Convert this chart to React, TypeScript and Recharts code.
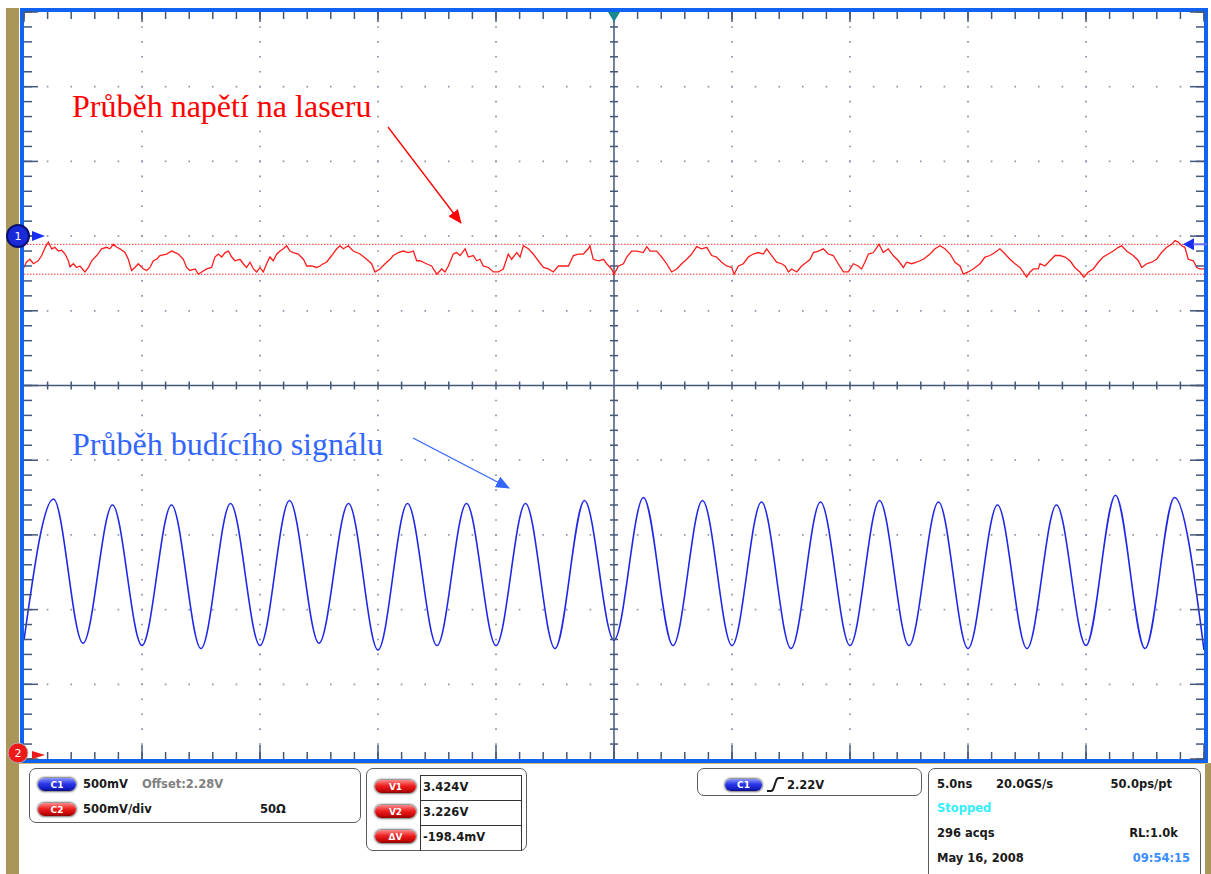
import React from 'react';
import { LineChart, Line, XAxis, YAxis, ReferenceLine, ReferenceDot } from 'recharts';

// time axis in ns (5 ns/div, 10 div), vertical axis in divisions (10 div)
const xMinorTicks = [-25, -24, -23, -22, -21, -20, -19, -18, -17, -16, -15, -14, -13, -12, -11, -10, -9, -8, -7, -6, -5, -4, -3, -2, -1, 0, 1, 2, 3, 4, 5, 6, 7, 8, 9, 10, 11, 12, 13, 14, 15, 16, 17, 18, 19, 20, 21, 22, 23, 24, 25];
const xMajorTicks = [-25, -20, -15, -10, -5, 0, 5, 10, 15, 20, 25];
const yMinorTicks = [-5, -4.8, -4.6, -4.4, -4.2, -4, -3.8, -3.6, -3.4, -3.2, -3, -2.8, -2.6, -2.4, -2.2, -2, -1.8, -1.6, -1.4, -1.2, -1, -0.8, -0.6, -0.4, -0.2, 0, 0.2, 0.4, 0.6, 0.8, 1, 1.2, 1.4, 1.6, 1.8, 2, 2.2, 2.4, 2.6, 2.8, 3, 3.2, 3.4, 3.6, 3.8, 4, 4.2, 4.4, 4.6, 4.8, 5];
const yMajorTicks = [-5, -4, -3, -2, -1, 0, 1, 2, 3, 4, 5];
const xGridLines = [-20, -15, -10, -5, 5, 10, 15, 20];
const yGridLines = [-4, -3, -2, -1, 1, 2, 3, 4];
const cursorLevels = [1.89, 1.49];

// laser voltage trace (red), [time ns, divisions]
const redTrace: number[][] = [
  [-25.0, 1.58], [-24.9, 1.65], [-24.75, 1.69], [-24.6, 1.63], [-24.4, 1.67], [-24.25, 1.74], [-24.1, 1.85], [-23.97, 1.92], [-23.83, 1.83], [-23.69, 1.85], [-23.55, 1.80], [-23.4, 1.81], [-23.26, 1.76], [-23.12, 1.67], [-23.05, 1.59], [-22.91, 1.63], [-22.77, 1.58], [-22.63, 1.60], [-22.42, 1.52], [-22.27, 1.58], [-22.13, 1.67], [-21.92, 1.74], [-21.71, 1.83], [-21.5, 1.85], [-21.36, 1.83], [-21.22, 1.89], [-21.07, 1.85], [-20.93, 1.83], [-20.72, 1.78], [-20.58, 1.69], [-20.44, 1.54], [-20.3, 1.58], [-20.16, 1.63], [-19.94, 1.56], [-19.8, 1.54], [-19.66, 1.58], [-19.52, 1.67], [-19.38, 1.69], [-19.24, 1.74], [-18.96, 1.76], [-18.74, 1.80], [-18.6, 1.78], [-18.46, 1.76], [-18.25, 1.69], [-18.11, 1.58], [-17.97, 1.54], [-17.75, 1.56], [-17.61, 1.49], [-17.47, 1.52], [-17.26, 1.56], [-17.05, 1.58], [-16.91, 1.72], [-16.77, 1.76], [-16.62, 1.72], [-16.48, 1.78], [-16.34, 1.80], [-16.2, 1.72], [-16.06, 1.67], [-15.85, 1.69], [-15.71, 1.63], [-15.57, 1.58], [-15.42, 1.65], [-15.28, 1.56], [-15.14, 1.52], [-15.0, 1.58], [-14.86, 1.52], [-14.72, 1.63], [-14.58, 1.72], [-14.44, 1.67], [-14.29, 1.76], [-14.15, 1.80], [-14.01, 1.83], [-13.87, 1.87], [-13.73, 1.80], [-13.59, 1.78], [-13.38, 1.76], [-13.16, 1.69], [-13.02, 1.60], [-12.81, 1.60], [-12.6, 1.58], [-12.46, 1.60], [-12.32, 1.63], [-12.18, 1.65], [-11.96, 1.74], [-11.75, 1.83], [-11.61, 1.87], [-11.47, 1.83], [-11.26, 1.87], [-11.05, 1.80], [-10.76, 1.76], [-10.48, 1.69], [-10.27, 1.63], [-10.13, 1.52], [-9.92, 1.56], [-9.7, 1.63], [-9.49, 1.69], [-9.35, 1.74], [-9.14, 1.78], [-8.93, 1.80], [-8.72, 1.78], [-8.5, 1.80], [-8.36, 1.67], [-8.22, 1.67],
  [-7.94, 1.63], [-7.73, 1.60], [-7.51, 1.49], [-7.3, 1.56], [-7.16, 1.52], [-7.02, 1.60], [-6.81, 1.76], [-6.67, 1.78], [-6.52, 1.74], [-6.31, 1.83], [-6.17, 1.72], [-5.96, 1.74], [-5.82, 1.67], [-5.68, 1.69], [-5.54, 1.60], [-5.32, 1.58], [-5.11, 1.52], [-4.9, 1.52], [-4.69, 1.56], [-4.48, 1.76], [-4.34, 1.69], [-4.12, 1.78], [-3.98, 1.72], [-3.84, 1.87], [-3.63, 1.83], [-3.42, 1.76], [-3.21, 1.67], [-2.99, 1.58], [-2.78, 1.56], [-2.57, 1.52], [-2.36, 1.60], [-2.15, 1.60], [-1.93, 1.60], [-1.72, 1.74], [-1.51, 1.76], [-1.3, 1.76], [-1.09, 1.83], [-1.02, 1.87], [-0.88, 1.69], [-0.66, 1.67], [-0.45, 1.69], [-0.31, 1.63], [-0.1, 1.56], [0, 1.49], [0.19, 1.60], [0.4, 1.63], [0.54, 1.72], [0.75, 1.80], [0.96, 1.80], [1.24, 1.78], [1.39, 1.86], [1.53, 1.80], [1.81, 1.80], [2.02, 1.72], [2.23, 1.63], [2.44, 1.52], [2.66, 1.56], [2.87, 1.63], [3.08, 1.69], [3.29, 1.76], [3.5, 1.86], [3.71, 1.83], [3.93, 1.85], [4.14, 1.74], [4.35, 1.72], [4.56, 1.65], [4.77, 1.60], [4.99, 1.58], [5.09, 1.49], [5.27, 1.60], [5.48, 1.63], [5.69, 1.72], [5.9, 1.76], [6.12, 1.78], [6.33, 1.76], [6.47, 1.83], [6.68, 1.74], [6.89, 1.65], [7.1, 1.63], [7.25, 1.60], [7.39, 1.52], [7.53, 1.56], [7.74, 1.52], [7.95, 1.60], [8.16, 1.65], [8.31, 1.69],
  [8.45, 1.78], [8.66, 1.80], [8.87, 1.83], [9.08, 1.76], [9.29, 1.74], [9.5, 1.63], [9.72, 1.52], [9.93, 1.52], [10.14, 1.63], [10.35, 1.60], [10.49, 1.56], [10.63, 1.65], [10.78, 1.76], [10.99, 1.78], [11.23, 1.89], [11.41, 1.78], [11.62, 1.83], [11.83, 1.74], [12.05, 1.67], [12.26, 1.58], [12.4, 1.65], [12.61, 1.63], [12.82, 1.65], [13.11, 1.69], [13.39, 1.76], [13.6, 1.83], [13.81, 1.87], [14.02, 1.83], [14.24, 1.76], [14.45, 1.65], [14.66, 1.60], [14.8, 1.49], [15.01, 1.52], [15.22, 1.56], [15.51, 1.63], [15.72, 1.72], [15.93, 1.74], [16.14, 1.78], [16.35, 1.83], [16.57, 1.76], [16.78, 1.69], [16.99, 1.63], [17.2, 1.58], [17.34, 1.52], [17.48, 1.45], [17.63, 1.52], [17.77, 1.56], [17.98, 1.56], [18.05, 1.63], [18.26, 1.60], [18.47, 1.67], [18.69, 1.74], [18.9, 1.74], [19.11, 1.72], [19.32, 1.67], [19.53, 1.58], [19.74, 1.52], [19.91, 1.45], [20.1, 1.52], [20.31, 1.56], [20.52, 1.65], [20.73, 1.72], [20.94, 1.76], [21.16, 1.80], [21.37, 1.85], [21.51, 1.87], [21.72, 1.80], [22.0, 1.74], [22.22, 1.67], [22.36, 1.58], [22.57, 1.63], [22.78, 1.65], [22.99, 1.69], [23.2, 1.78], [23.42, 1.85], [23.63, 1.89], [23.77, 1.94], [23.91, 1.92], [24.05, 1.87], [24.19, 1.85], [24.33, 1.69], [24.55, 1.67], [24.69, 1.58], [24.83, 1.56], [25.0, 1.56],
];

// drive signal (blue): troughs and peaks, time ns
const blueTimes = [-25, -23.75, -22.5, -21.25, -20, -18.75, -17.5, -16.25, -15, -13.75, -12.5, -11.25, -10, -8.75, -7.5, -6.25, -5, -3.75, -2.5, -1.25, 0, 1.25, 2.5, 3.75, 5, 6.25, 7.5, 8.75, 10, 11.25, 12.5, 13.75, 15, 16.25, 17.5, 18.75, 20, 21.25, 22.5, 23.75, 25];
const blueValues = [-3.41, -1.52, -3.45, -1.60, -3.48, -1.60, -3.52, -1.58, -3.48, -1.54, -3.45, -1.58, -3.54, -1.58, -3.48, -1.58, -3.48, -1.58, -3.52, -1.54, -3.41, -1.50, -3.48, -1.54, -3.48, -1.56, -3.52, -1.56, -3.48, -1.54, -3.48, -1.56, -3.52, -1.60, -3.52, -1.60, -3.48, -1.47, -3.52, -1.50, -3.54];

const redData = redTrace.map(([t, v]) => ({ t, v }));
const blueData = blueTimes.map((t, i) => ({ t, v: blueValues[i] }));

const TICK = '#44577b';
const GRID = '#8a97aa';
const SANS = '"DejaVu Sans", sans-serif';

const Pill = ({ x, y, w, h, red, label }: any) => (
  <div
    style={{
      position: 'absolute', left: x, top: y, width: w, height: h, borderRadius: h / 2,
      background: red
        ? 'linear-gradient(#ff8a8a, #ee2020 45%, #c80808 80%, #8a0000)'
        : 'linear-gradient(#8a95ff, #2a36e8 45%, #1620c8 80%, #08107a)',
      boxShadow: '0 0 2px 1px #777', color: '#fff', fontFamily: SANS, fontWeight: 'bold', fontSize: 9,
      display: 'flex', alignItems: 'center', justifyContent: 'center',
    }}
  >
    {label}
  </div>
);

const Txt = ({ x, y, children, color = '#1a1a1a', right }: any) => (
  <div
    style={{
      position: 'absolute', top: y - 8, height: 16, lineHeight: '16px', whiteSpace: 'nowrap',
      ...(right ? { right: 1211 - x } : { left: x }),
      fontFamily: SANS, fontWeight: 'bold', fontSize: 11.5, color,
    }}
  >
    {children}
  </div>
);

const Box = ({ x, y, w, h }: any) => (
  <div style={{ position: 'absolute', left: x, top: y, width: w, height: h, border: '1px solid #5c5c5c', borderRadius: 7, boxSizing: 'border-box' }} />
);

// short tick-mark shapes (pixel lengths), placed through the chart scales
const seg = (x1: number, y1: number, x2: number, y2: number) => (
  <line x1={x1} y1={y1} x2={x2} y2={y2} stroke={TICK} strokeWidth={1.5} />
);
const hTick = (p: any) => seg(p.cx - 4, p.cy, p.cx + 4, p.cy);
const vTick = (p: any) => seg(p.cx, p.cy - 4, p.cx, p.cy + 4);
const topMinor = (p: any) => seg(p.cx, p.cy, p.cx, p.cy + 7);
const topMajor = (p: any) => seg(p.cx, p.cy, p.cx, p.cy + 10);
const botMinor = (p: any) => seg(p.cx, p.cy, p.cx, p.cy - 7);
const botMajor = (p: any) => seg(p.cx, p.cy, p.cx, p.cy - 14);
const leftMinor = (p: any) => seg(p.cx, p.cy, p.cx + 8, p.cy);
const leftMajor = (p: any) => seg(p.cx, p.cy, p.cx + 14, p.cy);
const rightMinor = (p: any) => seg(p.cx, p.cy, p.cx - 8, p.cy);
const rightMajor = (p: any) => seg(p.cx, p.cy, p.cx - 14, p.cy);

const marker1 = (p: any) => (
  <g>
    <circle cx={p.cx - 6} cy={p.cy} r={11} fill="#1a2ad8" stroke="#0a1070" strokeWidth={2} />
    <text x={p.cx - 6} y={p.cy + 4} textAnchor="middle" fill="#fff" fontFamily={SANS} fontSize={11}>1</text>
    <polygon points={`${p.cx + 8},${p.cy - 5} ${p.cx + 21},${p.cy} ${p.cx + 8},${p.cy + 5}`} fill="#1a2ef0" />
  </g>
);
const marker2 = (p: any) => (
  <g>
    <circle cx={p.cx - 6} cy={p.cy - 6} r={10} fill="#ee1a1a" stroke="#b0b0b0" strokeWidth={1} />
    <text x={p.cx - 6} y={p.cy - 2} textAnchor="middle" fill="#fff" fontFamily={SANS} fontSize={11}>2</text>
    <polygon points={`${p.cx + 8},${p.cy - 8} ${p.cx + 21},${p.cy - 4} ${p.cx + 8},${p.cy}`} fill="#ee1a1a" />
  </g>
);
const triggerArrow = (p: any) => (
  <g>
    <polygon points={`${p.cx - 21},${p.cy} ${p.cx - 10},${p.cy - 6} ${p.cx - 10},${p.cy + 6}`} fill="#1a2ef0" />
    <line x1={p.cx - 11} x2={p.cx + 3} y1={p.cy} y2={p.cy} stroke="#6a70f0" strokeWidth={2} />
  </g>
);
const topMarker = (p: any) => (
  <polygon points={`${p.cx - 6},${p.cy} ${p.cx + 6},${p.cy} ${p.cx},${p.cy + 10}`} fill="#17898c" />
);

const dot = (key: string, x: number, y: number, shape: any) => (
  <ReferenceDot key={key} xAxisId="b" yAxisId="l" x={x} y={y} r={1} shape={shape} />
);

export default function App() {
  return (
    <div style={{ position: 'absolute', left: 0, top: 0, width: 1211, height: 874, background: '#fff', overflow: 'hidden' }}>
      <div style={{ position: 'absolute', left: 6, top: 8, width: 13, height: 866, background: '#a99658' }} />
      <div style={{ position: 'absolute', left: 1205, top: 763, width: 6, height: 111, background: '#a99658' }} />
      <div style={{ position: 'absolute', left: 19, top: 763, width: 1190, height: 1, background: '#d0bc78' }} />
      <div style={{ position: 'absolute', left: 20, top: 8, width: 1188, height: 755, border: '4px solid #0f63f0', boxSizing: 'border-box' }} />

      <div style={{ position: 'absolute', left: 0, top: 0 }}>
        <LineChart width={1211} height={874} margin={{ top: 12, right: 7, bottom: 115, left: 24 }}>
          <XAxis xAxisId="b" type="number" dataKey="t" domain={[-25, 25]} allowDataOverflow hide />
          <YAxis yAxisId="l" type="number" domain={[-5, 5]} allowDataOverflow hide />

          {yGridLines.map((v) => (
            <ReferenceLine key={'gy' + v} xAxisId="b" yAxisId="l" y={v} stroke={GRID} strokeWidth={1.8} strokeDasharray="1.6 22" strokeDashoffset={0.8} />
          ))}
          {xGridLines.map((v) => (
            <ReferenceLine key={'gx' + v} xAxisId="b" yAxisId="l" x={v} stroke={GRID} strokeWidth={1.8} strokeDasharray="1.6 13.34" strokeDashoffset={0.8} />
          ))}
          <ReferenceLine xAxisId="b" yAxisId="l" x={0} stroke={TICK} strokeWidth={1.5} />
          <ReferenceLine xAxisId="b" yAxisId="l" y={0} stroke={TICK} strokeWidth={1.5} />
          {yMinorTicks.filter((v) => v !== 0 && Math.abs(v) !== 5).map((v) => dot('cy' + v, 0, v, hTick))}
          {xMinorTicks.filter((v) => v !== 0 && Math.abs(v) !== 25).map((v) => dot('cx' + v, v, 0, vTick))}

          {xMinorTicks.map((v) => dot('tm' + v, v, 5, topMinor))}
          {xMajorTicks.map((v) => dot('tM' + v, v, 5, topMajor))}
          {xMinorTicks.map((v) => dot('bm' + v, v, -5, botMinor))}
          {xMajorTicks.map((v) => dot('bM' + v, v, -5, botMajor))}
          {yMinorTicks.map((v) => dot('lm' + v, -25, v, leftMinor))}
          {yMajorTicks.map((v) => dot('lM' + v, -25, v, leftMajor))}
          {yMinorTicks.map((v) => dot('rm' + v, 25, v, rightMinor))}
          {yMajorTicks.map((v) => dot('rM' + v, 25, v, rightMajor))}

          {cursorLevels.map((v) => (
            <ReferenceLine key={'cur' + v} xAxisId="b" yAxisId="l" y={v} stroke="#ff3030" strokeWidth={1} strokeDasharray="1.5 1.5" />
          ))}

          <Line data={blueData} xAxisId="b" yAxisId="l" dataKey="v" type="monotoneX" stroke="#1f28e6" strokeWidth={1.6} dot={false} isAnimationActive={false} />
          <Line data={redData} xAxisId="b" yAxisId="l" dataKey="v" type="linear" stroke="#ff1c1c" strokeWidth={1.3} dot={false} isAnimationActive={false} />

          {dot('trig-top', 0, 5, topMarker)}
          {dot('trig-lvl', 25, 1.89, triggerArrow)}
          {dot('ch1', -25, 2.0, marker1)}
          {dot('ch2', -25, -5, marker2)}
        </LineChart>
      </div>

      <svg width={1211} height={874} style={{ position: 'absolute', left: 0, top: 0, pointerEvents: 'none' }}>
        <defs>
          <marker id="ahR" markerWidth="14" markerHeight="12" refX="13" refY="6" orient="auto" markerUnits="userSpaceOnUse">
            <polygon points="0,0 14,6 0,12" fill="#ff0000" />
          </marker>
          <marker id="ahB" markerWidth="14" markerHeight="12" refX="13" refY="6" orient="auto" markerUnits="userSpaceOnUse">
            <polygon points="0,0 14,6 0,12" fill="#3366ff" />
          </marker>
        </defs>
        <text x={72} y={117} fill="#ff0000" fontFamily='"Liberation Serif", serif' fontSize={32}>Průběh napětí na laseru</text>
        <line x1={388} y1={127} x2={461} y2={223} stroke="#ff0000" strokeWidth={1.3} markerEnd="url(#ahR)" />
        <text x={72} y={455} fill="#3366ff" fontFamily='"Liberation Serif", serif' fontSize={32}>Průběh budícího signálu</text>
        <line x1={413} y1={438} x2={509} y2={488} stroke="#3366ff" strokeWidth={1.3} markerEnd="url(#ahB)" />
      </svg>

      {/* bottom status panel */}
      <Box x={29} y={768} w={332} h={55} />
      <Pill x={38} y={778} w={38} h={13} label="C1" />
      <Txt x={83} y={784}>500mV</Txt>
      <Txt x={142} y={784} color="#808080">Offset:2.28V</Txt>
      <Pill x={38} y={803} w={38} h={13} red label="C2" />
      <Txt x={83} y={809}>500mV/div</Txt>
      <Txt x={260} y={809}>50Ω</Txt>

      <Box x={366} y={768} w={161} h={83} />
      <div style={{ position: 'absolute', left: 420, top: 775, width: 102, height: 76, border: '1px solid #333', borderBottom: 'none', boxSizing: 'border-box' }} />
      <div style={{ position: 'absolute', left: 420, top: 800, width: 102, height: 1, background: '#333' }} />
      <div style={{ position: 'absolute', left: 420, top: 825, width: 102, height: 1, background: '#333' }} />
      <Pill x={375} y={780} w={41} h={13} red label="V1" />
      <Pill x={375} y={805} w={41} h={13} red label="V2" />
      <Pill x={375} y={830} w={41} h={13} red label="ΔV" />
      <Txt x={423} y={787}>3.424V</Txt>
      <Txt x={423} y={812}>3.226V</Txt>
      <Txt x={423} y={837}>-198.4mV</Txt>

      <Box x={697} y={768} w={225} h={28} />
      <Pill x={725} y={779} w={37} h={12} label="C1" />
      <svg width={22} height={18} style={{ position: 'absolute', left: 765, top: 776 }}>
        <path d="M2 15 L6 15 Q8 15 9 11 L11 5 Q12 2 14 2 L19 2" fill="none" stroke="#1a1a1a" strokeWidth={2} />
      </svg>
      <Txt x={787} y={785}>2.22V</Txt>

      <Box x={928} y={768} w={273} h={120} />
      <Txt x={937} y={784}>5.0ns</Txt>
      <Txt x={996} y={784}>20.0GS/s</Txt>
      <Txt x={1172} y={784} right>50.0ps/pt</Txt>
      <Txt x={937} y={808} color="#33eefc">Stopped</Txt>
      <Txt x={937} y={833}>296 acqs</Txt>
      <Txt x={1178} y={833} right>RL:1.0k</Txt>
      <Txt x={937} y={858}>May 16, 2008</Txt>
      <Txt x={1190} y={858} right color="#3a8cff">09:54:15</Txt>
    </div>
  );
}
